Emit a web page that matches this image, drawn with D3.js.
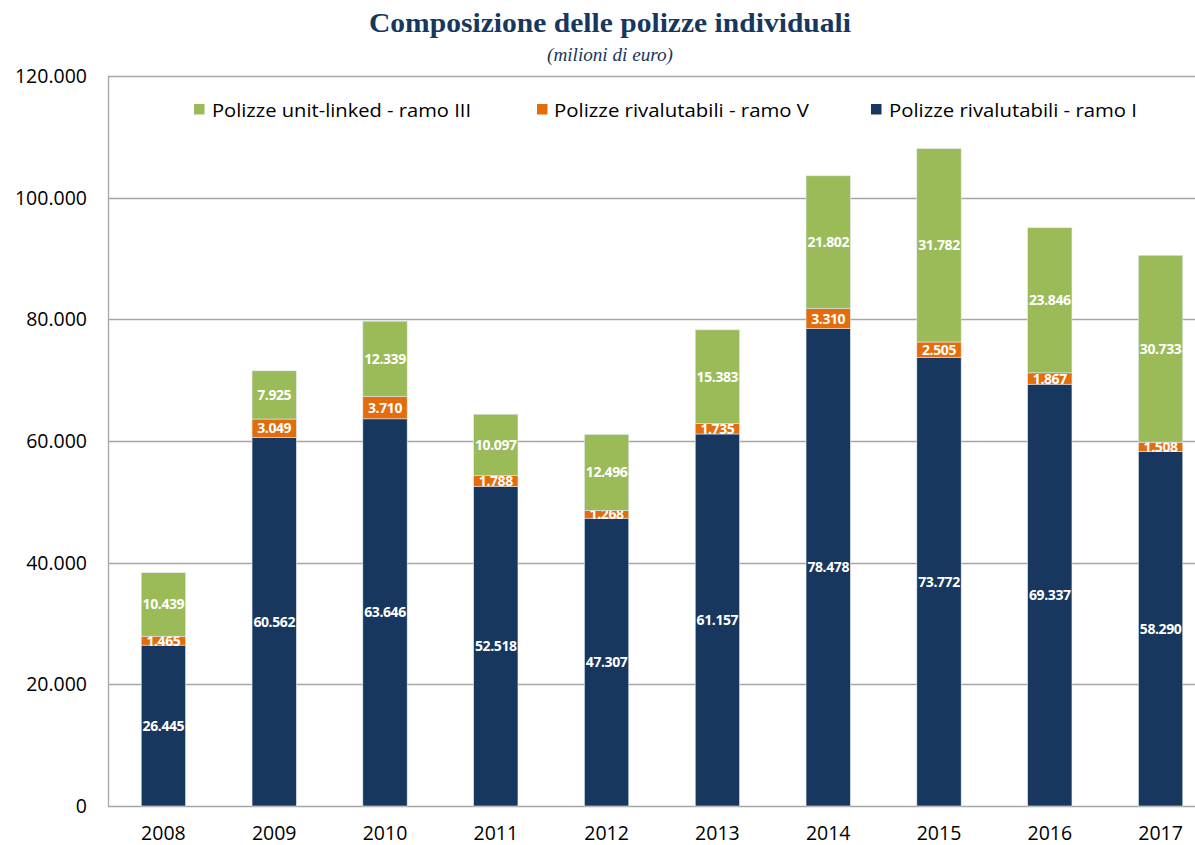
<!DOCTYPE html>
<html><head><meta charset="utf-8">
<script src="https://cdn.jsdelivr.net/npm/d3@7"></script>
<style>body{margin:0;background:#fff;overflow:hidden}</style>
</head><body>
<svg id="c" width="1195" height="845"></svg>
<script>
const years = ["2008","2009","2010","2011","2012","2013","2014","2015","2016","2017"];
const ramoI = [26445,60562,63646,52518,47307,61157,78478,73772,69337,58290];
const ramoV = [1465,3049,3710,1788,1268,1735,3310,2505,1867,1508];
const ramoIII = [10439,7925,12339,10097,12496,15383,21802,31782,23846,30733];
const yTicks = [0,20000,40000,60000,80000,100000,120000];
const seriesNames = ["Polizze rivalutabili - ramo I","Polizze rivalutabili - ramo V","Polizze unit-linked - ramo III"];
const colors = ["#17375E","#E46C0A","#9BBB59"];
const legendOrder = [2,1,0];

const svg = d3.select("#c");
const pL = 108, pR = 1216, pT = 76, pB = 806;
const x = d3.scaleBand().domain(years).range([pL,pR]).paddingInner(0.6).paddingOuter(0.3);
const y = d3.scaleLinear().domain([0,120000]).range([pB,pT]);
const fmt = v => d3.format(",")(v).replace(/,/g,".");

// title
svg.append("text").attr("x",610).attr("y",32).attr("text-anchor","middle")
  .attr("font-family","'Liberation Serif', serif").attr("font-weight","bold").attr("font-size",28)
  .attr("fill","#17375E").attr("textLength",482).attr("lengthAdjust","spacingAndGlyphs")
  .text("Composizione delle polizze individuali");
svg.append("text").attr("x",610).attr("y",61).attr("text-anchor","middle")
  .attr("font-family","'Liberation Serif', serif").attr("font-style","italic").attr("font-size",18)
  .attr("fill","#17375E").attr("textLength",126).attr("lengthAdjust","spacingAndGlyphs")
  .text("(milioni di euro)");

// gridlines
svg.append("g").selectAll("line").data(yTicks).join("line")
  .attr("x1",pL).attr("x2",pR).attr("y1",d=>Math.round(y(d))+0.5).attr("y2",d=>Math.round(y(d))+0.5)
  .attr("stroke","#a6a6a6").attr("stroke-width",1.3);
svg.append("line").attr("x1",pL+0.5).attr("x2",pL+0.5).attr("y1",pT).attr("y2",pB)
  .attr("stroke","#a6a6a6").attr("stroke-width",1.3);

// y tick labels
svg.append("g").selectAll("text").data(yTicks).join("text")
  .attr("x",87).attr("y",d=>y(d)+7).attr("text-anchor","end")
  .attr("font-family","'Open Sans', sans-serif").attr("font-size",19.5).attr("fill","#000")
  .text(d=>fmt(d));

// x labels
svg.append("g").selectAll("text").data(years).join("text")
  .attr("x",d=>x(d)+x.bandwidth()/2).attr("y",840).attr("text-anchor","middle")
  .attr("font-family","'Open Sans', sans-serif").attr("font-size",19.5).attr("fill","#000")
  .text(d=>d);

// stacked data
const rows = years.map((yr,i)=>({year:yr, s0:ramoI[i], s1:ramoV[i], s2:ramoIII[i]}));
const stack = d3.stack().keys(["s0","s1","s2"])(rows);

stack.forEach((layer,k)=>{
  const g = svg.append("g");
  g.selectAll("rect").data(layer).join("rect")
    .attr("x",d=>x(d.data.year)).attr("width",x.bandwidth())
    .attr("y",d=>y(d[1])).attr("height",d=>y(d[0])-y(d[1]))
    .attr("fill",colors[k]).attr("stroke","#dfe6ee").attr("stroke-width",0.6);
  g.selectAll("text").data(layer).join("text")
    .attr("x",d=>x(d.data.year)+x.bandwidth()/2).attr("y",d=>(y(d[0])+y(d[1]))/2+5)
    .attr("text-anchor","middle").attr("font-family","'Open Sans', sans-serif").attr("font-weight","bold")
    .attr("font-size",14).attr("fill","#fff").attr("letter-spacing",-0.4)
    .text(d=>fmt(d[1]-d[0]));
});

// legend
const legSq = [194,537,871];
const legTx = [212,554,889];
const legW = [259,255,248];
legendOrder.forEach((k,i)=>{
  svg.append("rect").attr("x",legSq[i]).attr("y",104).attr("width",10.5).attr("height",10.5).attr("fill",colors[k]);
  svg.append("text").attr("x",legTx[i]).attr("y",117).attr("font-family","'Liberation Sans Narrow','Open Sans', sans-serif")
    .attr("font-size",19).attr("fill","#000").attr("textLength",legW[i]).attr("lengthAdjust","spacingAndGlyphs")
    .text(seriesNames[k]);
});
</script>
</body></html>
